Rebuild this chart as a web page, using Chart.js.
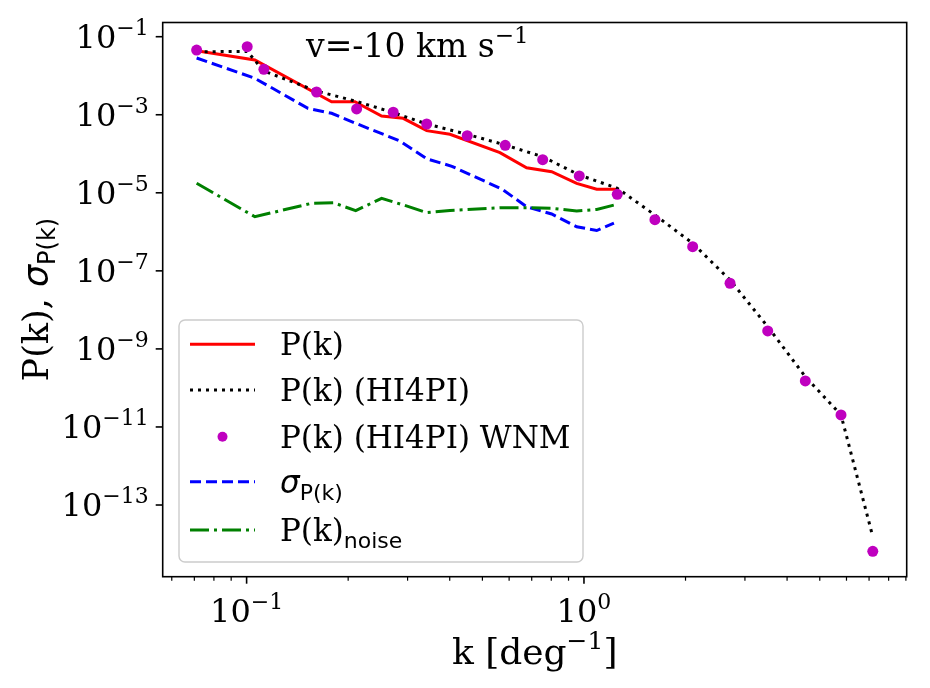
<!DOCTYPE html>
<html>
<head>
<meta charset="utf-8">
<script src="https://cdn.jsdelivr.net/npm/chart.js@4.4.0/dist/chart.umd.min.js"></script>
<style>html,body{margin:0;padding:0;background:#fff}</style>
</head>
<body>
<canvas id="myChart" width="930" height="688"></canvas>
<script>
// values (k in deg^-1)
var kPk = [0.0711, 0.1058, 0.1786, 0.2094, 0.2513, 0.2912, 0.3418, 0.4006, 0.5636, 0.676, 0.802, 0.9514, 1.091, 1.264]
var pPk = [4.37e-2, 2.53e-2, 2.16e-3, 2.16e-3, 9.29e-4, 8.11e-4, 3.91e-4, 3.16e-4, 1.07e-4, 4.40e-5, 3.48e-5, 1.75e-5, 1.23e-5, 1.23e-5]

var kHI = [0.0711, 0.1004, 0.1125, 0.1612, 0.2119, 0.272, 0.3418, 0.4508, 0.5842, 0.7545, 0.9685, 1.255, 1.623, 2.10, 2.71, 3.505, 4.53, 5.78, 7.18]
var pHI = [4.1e-2, 4.2e-2, 1.32e-2, 4.06e-3, 2.19e-3, 1.14e-3, 5.8e-4, 3.15e-4, 1.68e-4, 8.41e-5, 2.86e-5, 1.31e-5, 2.70e-6, 5.09e-7, 5.83e-8, 3.72e-9, 1.95e-10, 2.03e-11, 1.55e-14]
var pWNM = [4.56e-2, 5.55e-2, 1.46e-2, 3.83e-3, 1.41e-3, 1.16e-3, 5.8e-4, 2.9e-4, 1.65e-4, 7.06e-5, 2.70e-5, 9.17e-6, 2.05e-6, 4.17e-7, 4.81e-8, 2.88e-9, 1.51e-10, 2.03e-11, 6.5e-15]

var kSig = [0.0711, 0.1058, 0.152, 0.1786, 0.2094, 0.2847, 0.3418, 0.406, 0.571, 0.676, 0.802, 0.9514, 1.091, 1.227]
var pSig = [2.85e-2, 8.6e-3, 1.46e-3, 1.09e-3, 6.15e-4, 2.13e-4, 7.45e-5, 4.78e-5, 1.25e-5, 4.41e-6, 2.86e-6, 1.35e-6, 1.08e-6, 1.66e-6]

var kNoise = [0.0711, 0.1058, 0.156, 0.1808, 0.2106, 0.2513, 0.2912, 0.3418, 0.4006, 0.5636, 0.676, 0.802, 0.9514, 1.091, 1.264]
var pNoise = [1.75e-5, 2.44e-6, 5.39e-6, 5.59e-6, 3.48e-6, 7.24e-6, 4.9e-6, 3.10e-6, 3.52e-6, 4.16e-6, 4.16e-6, 4.01e-6, 3.42e-6, 3.74e-6, 5.18e-6]

var yTickExp = [-1, -3, -5, -7, -9, -11, -13]
var xTickExp = [-1, 0]
var xMinor = [0.06, 0.07, 0.08, 0.09, 0.2, 0.3, 0.4, 0.5, 0.6, 0.7, 0.8, 0.9, 2, 3, 4, 5, 6, 7, 8, 9]
var legendMain = ['P(k)', 'P(k) (HI4PI)', 'P(k) (HI4PI) WNM', 'σ', 'P(k)']
var legendSub = ['', '', '', 'P(k)', 'noise']

function pts(xs, ys) {
  return xs.map(function (x, i) { return {x: x, y: ys[i]} })
}

var SERIF = '"DejaVu Serif"'
var SANS = '"DejaVu Sans"'

// draw a run of text pieces: [text, font, dy]
function rich(ctx, parts, x, y, align) {
  var w = 0
  parts.forEach(function (p) { ctx.font = p[1]; w += ctx.measureText(p[0]).width })
  var cx = align === 'right' ? x - w : align === 'center' ? x - w / 2 : x
  ctx.textAlign = 'left'
  ctx.textBaseline = 'alphabetic'
  parts.forEach(function (p) {
    ctx.font = p[1]
    ctx.fillText(p[0], cx, y + (p[2] || 0))
    cx += ctx.measureText(p[0]).width
  })
  return w
}

var tickFs = 32
function powLabel(e) {
  var s = e < 0 ? '\u2212' + Math.abs(e) : String(e)
  return [['10', tickFs + 'px ' + SERIF, 0], [s, Math.round(tickFs * 0.7) + 'px ' + SERIF, -13]]
}

var axesDeco = {
  id: 'axesDeco',
  afterDatasetsDraw: function (chart) {
    var ctx = chart.ctx, a = chart.chartArea
    var xs = chart.scales.x, ys = chart.scales.y
    ctx.save()
    ctx.strokeStyle = '#000'
    ctx.fillStyle = '#000'
    ctx.lineWidth = 1.6
    ctx.strokeRect(a.left, a.top, a.right - a.left, a.bottom - a.top)
    // y ticks
    yTickExp.forEach(function (e) {
      var py = ys.getPixelForValue(Math.pow(10, e))
      ctx.beginPath(); ctx.moveTo(a.left, py); ctx.lineTo(a.left - 7, py); ctx.stroke()
      rich(ctx, powLabel(e), a.left - 14, py + 11, 'right')
    })
    // x ticks
    xTickExp.forEach(function (e) {
      var px = xs.getPixelForValue(Math.pow(10, e))
      ctx.beginPath(); ctx.moveTo(px, a.bottom); ctx.lineTo(px, a.bottom + 7); ctx.stroke()
      rich(ctx, powLabel(e), px, a.bottom + 45, 'center')
    })
    ctx.lineWidth = 1.2
    xMinor.forEach(function (v) {
      var px = xs.getPixelForValue(v)
      ctx.beginPath(); ctx.moveTo(px, a.bottom); ctx.lineTo(px, a.bottom + 4); ctx.stroke()
    })
    // axis titles
    var mid = (a.left + a.right) / 2
    rich(ctx, [['k [deg', '36px ' + SERIF, 0], ['\u22121', '25px ' + SERIF, -15], [']', '36px ' + SERIF, 0]], mid, 664, 'center')
    ctx.save()
    ctx.translate(48, (a.top + a.bottom) / 2)
    ctx.rotate(-Math.PI / 2)
    rich(ctx, [['P(k), ', '35px ' + SERIF, 0], ['σ', 'italic 35px ' + SANS, 0], ['P(k)', '24px ' + SANS, 7]], 0, 0, 'center')
    ctx.restore()
    // annotation
    rich(ctx, [['v=-10 km s', '33px ' + SERIF, 0], ['\u22121', '23px ' + SERIF, -14]], 306, 57, 'left')
    ctx.restore()
  },
  afterDraw: function (chart) {
    var ctx = chart.ctx
    ctx.save()
    // legend frame
    var bx = 179, by = 320, bw = 404, bh = 242, r = 6
    ctx.beginPath()
    ctx.moveTo(bx + r, by); ctx.arcTo(bx + bw, by, bx + bw, by + bh, r); ctx.arcTo(bx + bw, by + bh, bx, by + bh, r)
    ctx.arcTo(bx, by + bh, bx, by, r); ctx.arcTo(bx, by, bx + bw, by, r); ctx.closePath()
    ctx.fillStyle = 'rgba(255,255,255,0.8)'; ctx.fill()
    ctx.strokeStyle = '#cccccc'; ctx.lineWidth = 1.4; ctx.stroke()
    var rowsY = [344.3, 390, 436.7, 481.7, 530]
    chart.data.datasets.forEach(function (ds, i) {
      var y = rowsY[i]
      if (ds.showLine) {
        ctx.strokeStyle = ds.borderColor; ctx.lineWidth = ds.borderWidth
        ctx.setLineDash(ds.borderDash || []); ctx.lineCap = 'butt'
        ctx.beginPath(); ctx.moveTo(190, y); ctx.lineTo(255, y); ctx.stroke()
        ctx.setLineDash([])
      } else {
        ctx.fillStyle = ds.backgroundColor
        ctx.beginPath(); ctx.arc(222.5, y, 5, 0, Math.PI * 2); ctx.fill()
      }
      ctx.fillStyle = '#000'
      var parts = [[legendMain[i], (i === 3 ? 'italic 31px ' + SANS : '31px ' + SERIF), 0]]
      if (legendSub[i]) parts.push([legendSub[i], '22px ' + SANS, 7])
      rich(ctx, parts, 280, y + 11, 'left')
    })
    ctx.restore()
  }
}

var data = {
  datasets: [
    {label: 'P(k)', data: pts(kPk, pPk), showLine: true, borderColor: '#ff0000', borderWidth: 3, pointRadius: 0, order: 4},
    {label: 'P(k) (HI4PI)', data: pts(kHI, pHI), showLine: true, borderColor: '#000000', borderWidth: 3, borderDash: [3, 5], pointRadius: 0, order: 3},
    {label: 'P(k) (HI4PI) WNM', data: pts(kHI, pWNM), showLine: false, backgroundColor: '#bf00bf', borderWidth: 0, pointRadius: 5.5, order: 0},
    {label: 'sigma', data: pts(kSig, pSig), showLine: true, borderColor: '#0000ff', borderWidth: 3, borderDash: [11, 5], pointRadius: 0, order: 2},
    {label: 'noise', data: pts(kNoise, pNoise), showLine: true, borderColor: '#008000', borderWidth: 3, borderDash: [19, 5, 3, 5], pointRadius: 0, order: 1}
  ]
}

var config = {
  type: 'scatter',
  data: data,
  options: {
    responsive: false,
    animation: false,
    devicePixelRatio: 1,
    layout: {padding: {left: 162.7, right: 23.3, top: 22.5, bottom: 111.3}},
    plugins: {legend: {display: false}, tooltip: {enabled: false}},
    elements: {line: {tension: 0, borderCapStyle: 'butt'}},
    scales: {
      x: {type: 'logarithmic', display: false, min: 0.0564, max: 9.05},
      y: {type: 'logarithmic', display: false, min: Math.pow(10, -14.837), max: Math.pow(10, -0.636)}
    }
  },
  plugins: [axesDeco]
}

var myChart = new Chart(document.getElementById('myChart'), config)
</script>
</body>
</html>
